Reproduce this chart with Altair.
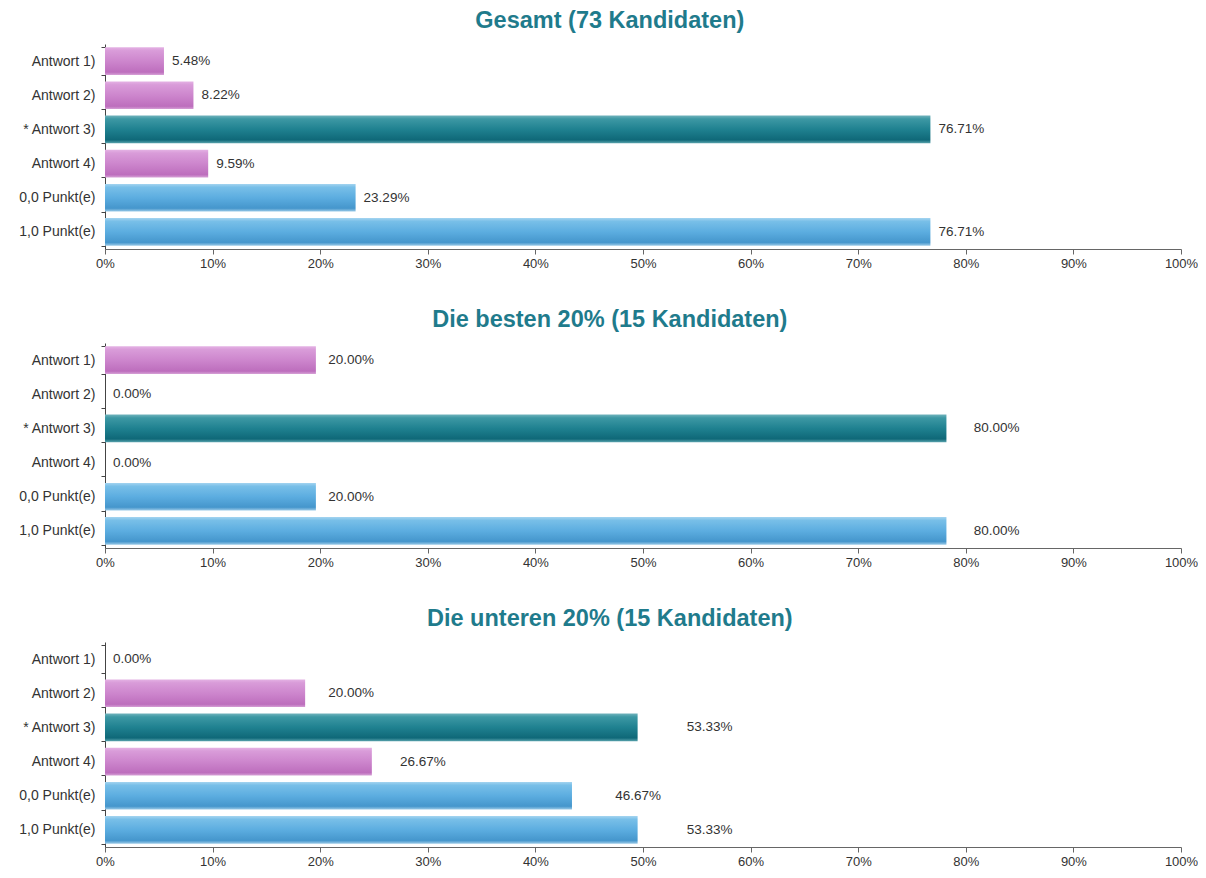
import altair as alt
import pandas as pd

categories = ["Antwort 1)", "Antwort 2)", "* Antwort 3)", "Antwort 4)", "0,0 Punkt(e)", "1,0 Punkt(e)"]
groups = ["falsch", "falsch", "richtig", "falsch", "punkte", "punkte"]

titles = ["Gesamt (73 Kandidaten)", "Die besten 20% (15 Kandidaten)", "Die unteren 20% (15 Kandidaten)"]

# percentages as printed next to the bars
label_values = [
    [5.48, 8.22, 76.71, 9.59, 23.29, 76.71],
    [20.00, 0.00, 80.00, 0.00, 20.00, 80.00],
    [0.00, 20.00, 53.33, 26.67, 46.67, 53.33],
]
# bar lengths as drawn in the picture
bar_values = [
    [5.48, 8.22, 76.71, 9.59, 23.29, 76.71],
    [19.6, 0.0, 78.2, 0.0, 19.6, 78.2],
    [0.0, 18.6, 49.5, 24.8, 43.4, 49.5],
]
x_ticks = [0, 10, 20, 30, 40, 50, 60, 70, 80, 90, 100]


def grad(stops):
    return alt.LinearGradient(
        gradient="linear", x1=0, y1=0, x2=0, y2=1,
        stops=[alt.GradientStop(offset=o, color=c) for o, c in stops],
    )


fills = {
    "falsch": grad([(0, "#e4b2e4"), (0.12, "#d99cd9"), (0.5, "#cd86cd"), (0.9, "#bd6ebd"), (1, "#d6a0d6")]),
    "richtig": grad([(0, "#6fb2bb"), (0.12, "#3d98a4"), (0.5, "#1f8190"), (0.88, "#0f6878"), (1, "#5aa4ae")]),
    "punkte": grad([(0, "#a4d4f0"), (0.12, "#78bfe8"), (0.5, "#5cade0"), (0.88, "#4596cc"), (1, "#9ccbe8")]),
}

FONT = "Liberation Sans"
FS = 13.5

panels = []
for title, bars, labels in zip(titles, bar_values, label_values):
    df = pd.DataFrame({
        "cat": categories,
        "grp": groups,
        "bar": bars,
        "val": labels,
        "txt": [f"{v:.2f}%" for v in labels],
    })
    base = alt.Chart(df)
    yenc = alt.Y(
        "cat:N", sort=categories, title=None,
        scale=alt.Scale(paddingInner=0.19, paddingOuter=0.095),
        axis=alt.Axis(
            tickBand="extent", tickSize=4, tickColor="#444", domainColor="#444",
            labelFontSize=14, labelColor="#333", labelPadding=6, labelFont=FONT,
            minExtent=91, maxExtent=91,
        ),
    )
    layers = []
    for g in ["falsch", "richtig", "punkte"]:
        layers.append(
            base.transform_filter(alt.datum.grp == g)
            .mark_bar(color=fills[g])
            .encode(
                y=yenc,
                x=alt.X(
                    "bar:Q", title=None,
                    scale=alt.Scale(domain=[0, 100], nice=False),
                    axis=alt.Axis(
                        values=x_ticks, labelExpr="datum.value + '%'", grid=False,
                        tickSize=5, tickColor="#666", domainColor="#666",
                        labelFontSize=13, labelColor="#333", labelPadding=3,
                        labelFont=FONT, labelFlush=False,
                    ),
                ),
            )
        )
    text = base.mark_text(
        align="left", baseline="middle", dx=8, fontSize=FS, color="#333", font=FONT
    ).encode(y=alt.Y("cat:N", sort=categories), x=alt.X("val:Q"), text="txt:N")
    layers.append(text)
    panel = alt.layer(*layers).properties(
        width=1076, height=205,
        title=alt.TitleParams(
            title, fontSize=23.5, font=FONT, fontWeight="bold", color="#1f7b8c",
            anchor="middle", frame="bounds", offset=3, dx=4, dy=-2,
        ),
    )
    panels.append(panel)

chart = alt.vconcat(*panels, spacing=37).properties(
    padding={"left": 6, "top": 0, "right": 0, "bottom": 0}
).configure_view(stroke=None)

chart.save("out.html", embed_options={"renderer": "svg", "actions": False})
